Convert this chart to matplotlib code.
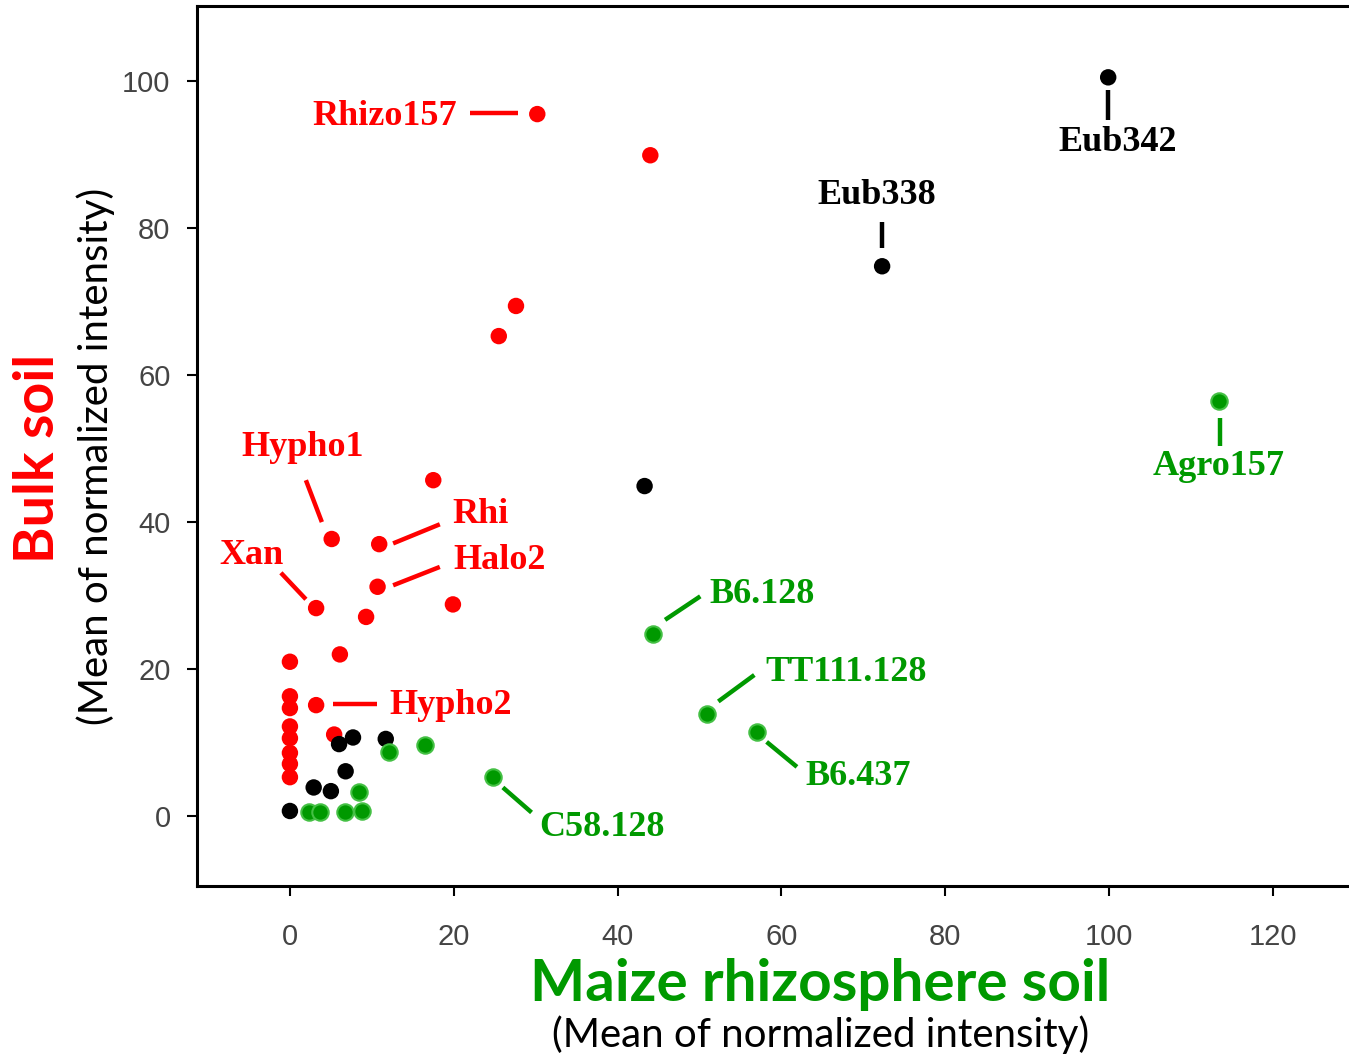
import numpy as np
import matplotlib.pyplot as plt

# probe intensities (maize rhizosphere, bulk soil)
red_x = [30.2, 44.0, 27.6, 25.5, 17.5, 5.1, 10.9, 10.7, 3.2, 19.9, 9.3, 6.1,
         0.0, 0.0, 0.0, 3.2, 0.0, 0.0, 0.0, 0.0, 0.0, 5.4]
red_y = [95.5, 89.9, 69.4, 65.3, 45.7, 37.7, 37.0, 31.2, 28.3, 28.8, 27.1, 22.0,
         21.0, 16.3, 14.7, 15.1, 12.2, 10.6, 8.6, 7.1, 5.3, 11.1]

black_x = [99.9, 72.3, 43.3, 7.7, 6.0, 11.7, 6.8, 2.9, 5.0, 0.0]
black_y = [100.5, 74.8, 44.9, 10.7, 9.8, 10.5, 6.1, 3.9, 3.4, 0.7]

green_x = [113.4, 44.3, 50.9, 57.0, 24.8, 12.1, 16.5, 8.4, 2.3, 3.7, 6.7, 8.8]
green_y = [56.5, 24.8, 13.9, 11.4, 5.3, 8.7, 9.7, 3.3, 0.5, 0.5, 0.5, 0.7]

RED = '#ff0000'
GREEN = '#009900'
BLACK = '#000000'

# name, colour, text x, text y, alignment, leader line (x0, y0, x1, y1)
labels = [
    ('Rhizo157', RED, 20.4, 95.6, 'right', (22.0, 95.6, 27.8, 95.6)),
    ('Hypho1', RED, 1.5, 50.5, 'center', (1.95, 45.7, 3.9, 40.0)),
    ('Rhi', RED, 19.8, 41.4, 'left', (12.6, 37.1, 18.3, 39.7)),
    ('Halo2', RED, 19.9, 35.2, 'left', (12.6, 31.4, 18.3, 33.9)),
    ('Xan', RED, -0.8, 35.9, 'right', (-1.1, 33.1, 1.95, 29.5)),
    ('Hypho2', RED, 12.1, 15.4, 'left', (5.25, 15.2, 10.6, 15.2)),
    ('Eub338', BLACK, 71.7, 84.8, 'center', (72.3, 80.8, 72.3, 77.3)),
    ('Eub342', BLACK, 101.0, 92.0, 'center', (99.9, 98.8, 99.9, 94.7)),
    ('Agro157', GREEN, 113.4, 48.0, 'center', (113.5, 54.1, 113.5, 50.3)),
    ('B6.128', GREEN, 51.2, 30.6, 'left', (45.8, 26.7, 50.1, 29.9)),
    ('TT111.128', GREEN, 58.1, 20.0, 'left', (52.3, 15.6, 56.7, 19.2)),
    ('B6.437', GREEN, 62.9, 5.85, 'left', (58.2, 10.1, 61.9, 6.7)),
    ('C58.128', GREEN, 30.5, -1.2, 'left', (26.0, 3.9, 29.5, 0.5)),
]

fig = plt.figure(figsize=(13.49, 10.58), dpi=100)
ax = fig.add_axes([0.146, 0.1626, 0.854, 0.8317])

ax.scatter(red_x, red_y, s=140, c=RED, edgecolors='none', zorder=3)
ax.scatter(black_x, black_y, s=140, c=BLACK, edgecolors='none', zorder=3)
ax.scatter(green_x, green_y, s=140, c=GREEN, edgecolors='#44c044', linewidths=1.5, zorder=3)

for name, col, tx, ty, ha, seg in labels:
    ax.text(tx, ty - 0.4, name, color=col, ha=ha, va='center', fontsize=26,
            fontweight='bold', family='Liberation Serif')
    ax.plot([seg[0], seg[2]], [seg[1], seg[3]], color=col, lw=3.2, solid_capstyle='butt')

ax.set_xlim(-11.35, 129.3)
ax.set_ylim(-9.5, 110.2)
ax.set_xticks(np.arange(0, 121, 20))
ax.set_yticks(np.arange(0, 101, 20))
ax.tick_params(length=7, width=1.5, pad=12, labelsize=21, labelcolor='#444444')
ax.tick_params(axis='x', pad=20)
for lab in ax.get_xticklabels() + ax.get_yticklabels():
    lab.set_family('Liberation Sans')

ax.spines['right'].set_visible(False)
for s in ['left', 'top', 'bottom']:
    ax.spines[s].set_linewidth(2.2)

fig.text(0.028, 0.567, 'Bulk soil', rotation=90, color=RED, fontsize=40,
         fontweight='bold', family='Lato', ha='center', va='center')
fig.text(0.071, 0.569, '(Mean of normalized intensity)', rotation=90, color='black',
         fontsize=29, family='Lato', ha='center', va='center')
fig.text(0.608, 0.069, 'Maize rhizosphere soil', color=GREEN, fontsize=42,
         fontweight='bold', family='Lato', ha='center', va='center')
fig.text(0.608, 0.022, '(Mean of normalized intensity)', color='black',
         fontsize=29, family='Lato', ha='center', va='center')

fig.savefig('out.png')
